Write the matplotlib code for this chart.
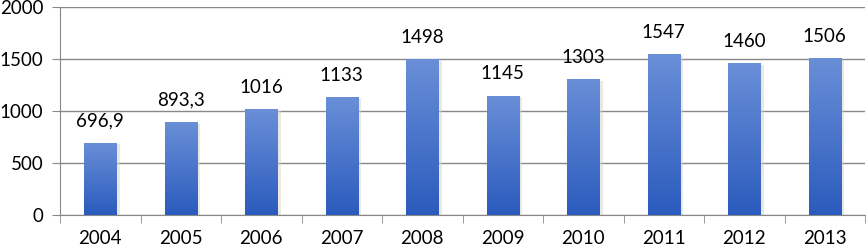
import numpy as np
import matplotlib
matplotlib.use("Agg")
import matplotlib.pyplot as plt
from matplotlib.colors import LinearSegmentedColormap

# Data
years = ["2004", "2005", "2006", "2007", "2008", "2009", "2010", "2011", "2012", "2013"]
values = [696.9, 893.3, 1016, 1133, 1498, 1145, 1303, 1547, 1460, 1506]
labels = ["696,9", "893,3", "1016", "1133", "1498", "1145", "1303", "1547", "1460", "1506"]

plt.rcParams['font.family'] = ['Lato', 'DejaVu Sans']

fig = plt.figure(figsize=(8.66, 2.49), dpi=100)
ax = fig.add_axes([60 / 866, 1 - 215 / 249, 805 / 866, 208 / 249])

x = np.arange(len(years))
bars = ax.bar(x, values, width=0.4, color="#3f6fcc", zorder=3)

# gradient fill for each bar, plus a faint shadow
cmap = LinearSegmentedColormap.from_list("blues", ["#2a5bbd", "#6a8fd8"])
grad = np.linspace(0, 1, 256).reshape(-1, 1)
for b in bars:
    bx, by = b.get_x(), b.get_y()
    w, h = b.get_width(), b.get_height()
    ax.bar(bx + w / 2 + 0.02, h, width=w + 0.04, bottom=-15, color="#d8d2c8",
           alpha=0.5, zorder=2)
    im = ax.imshow(grad, cmap=cmap, origin="lower", aspect="auto",
                   extent=(bx, bx + w, by, by + h), zorder=4)
    im.set_clip_path(b)
    b.set_alpha(0)

for xi, v, lab in zip(x, values, labels):
    ax.text(xi, v + 130, lab, ha="center", va="bottom", fontsize=13.5, color="black")

ax.set_xlim(-0.5, len(years) - 0.5)
ax.set_ylim(0, 2000)
ax.set_yticks([0, 500, 1000, 1500, 2000])
ax.set_xticks(x)
ax.set_xticklabels(years)
ax.set_xticks(np.arange(-0.5, len(years), 1), minor=True)
ax.tick_params(axis="x", which="major", length=0, labelsize=13.5, pad=11)
ax.tick_params(axis="x", which="minor", length=6, color="#888888")
ax.tick_params(axis="y", length=6, color="#888888", labelsize=13.5, pad=6)

ax.grid(axis="y", color="#888888", linewidth=1, zorder=0)
for s in ["top", "right"]:
    ax.spines[s].set_visible(False)
ax.spines["left"].set_color("#888888")
ax.spines["bottom"].set_color("#888888")

fig.savefig("out.png", dpi=100)
